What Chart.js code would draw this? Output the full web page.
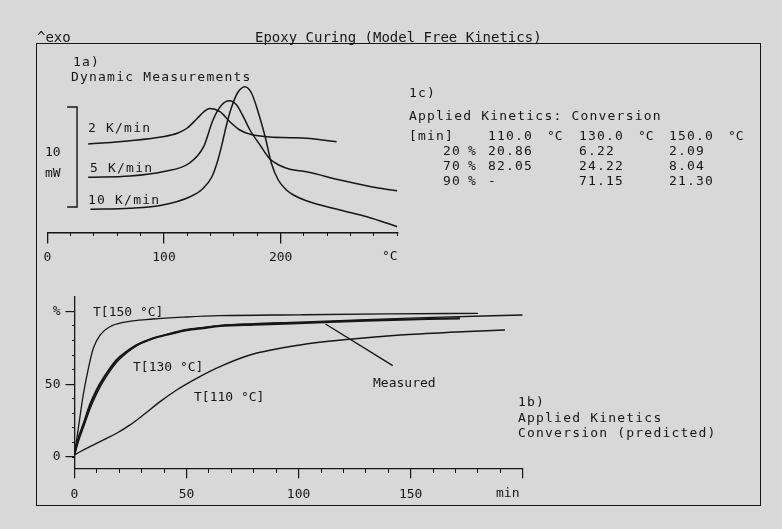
<!DOCTYPE html>
<html>
<head>
<meta charset="utf-8">
<script src="https://cdn.jsdelivr.net/npm/chart.js@4.4.1/dist/chart.umd.min.js"></script>
<style>
  html, body { margin: 0; padding: 0; background: #d8d8d8; }
  #page { position: relative; width: 782px; height: 529px; overflow: hidden; background: #d8d8d8;
          font-family: "DejaVu Sans Mono", monospace; color: #161616; }
  canvas { position: absolute; left: 0; top: 0; }
  #frame { position: absolute; left: 36px; top: 43px; width: 723px; height: 461px; border: 1.5px solid #161616; }
  .t { position: absolute; font-size: 13px; line-height: 16px; white-space: pre; letter-spacing: 1.2px; }
  .s { letter-spacing: 0; }
  .h { font-size: 14px; letter-spacing: 0; }
</style>
</head>
<body>
<div id="page">
  <div id="frame"></div>
  <canvas id="dsc" width="782" height="529"></canvas>
  <canvas id="conv" width="782" height="529"></canvas>
  <div id="labels"></div>
</div>
<script>
const ink = '#161616';
const DEG = '\u00B0C';

// 1a) dynamic measurements: temperature (°C) vs heat flow (mW, traces offset)
const temp2K = [35, 71, 99, 112, 120, 128, 134, 139, 148, 156.5, 165, 174, 188, 208, 222, 248];
const flow2K = [8.9, 9.23, 9.63, 10.0, 10.5, 11.4, 12.1, 12.45, 12.13, 11.13, 10.3, 9.87, 9.63, 9.53, 9.47, 9.13];
const temp5K = [35, 71, 99, 122, 134, 142, 149.4, 156, 162.3, 168, 173.7, 182.3, 190.8, 199.4, 208, 222, 251, 285, 300];
const flow5K = [5.57, 5.7, 6.13, 7.0, 8.63, 11.3, 12.8, 13.23, 12.8, 11.63, 10.3, 8.8, 7.4, 6.75, 6.37, 6.13, 5.3, 4.47, 4.23];
const temp10K = [37, 71, 99, 122, 133, 141, 146, 150, 154, 158, 163, 169.4, 175, 181, 187, 192, 198, 205, 211, 222, 251, 274, 300];
const flow10K = [2.37, 2.47, 2.8, 3.6, 4.4, 5.6, 7.2, 9.0, 11.0, 12.6, 14.0, 14.63, 14.0, 12.0, 9.5, 7.0, 5.3, 4.3, 3.8, 3.23, 2.3, 1.63, 0.63];

// 10 mW scale bar
const scaleBarT = [17, 25.5, 25.5, 17];
const scaleBarMW = [12.6, 12.6, 2.6, 2.6];

// 1b) conversion (%) vs time (min)
const timeT150 = [0, 1.7, 3.9, 6.2, 8.4, 11.4, 15.8, 21.8, 35, 50, 65, 100, 140, 180];
const convT150 = [2, 19.7, 42.6, 60.9, 74.6, 83.7, 89.4, 92.4, 94.7, 96.1, 97, 97.6, 98.2, 98.6];
const timeT130 = [0, 2, 3.9, 6.9, 9.9, 12.9, 18.8, 23.3, 27.8, 35.2, 42.6, 50, 57.5, 64.9, 80, 100, 130, 172];
const convT130 = [2, 14, 22, 35.7, 46, 54, 66.6, 72.3, 76.9, 81.5, 84.4, 87, 88.5, 89.9, 90.9, 91.8, 93.6, 95.2];
const timeMeas = [0, 2, 3.9, 6.9, 9.9, 12.9, 18.8, 23.3, 27.8, 35.2, 42.6, 50, 57.5, 64.9, 80, 100, 130, 160, 200];
const convMeas = [2, 12, 20, 33, 43.5, 52, 65, 71.5, 76.5, 81.5, 84.8, 87.5, 89, 90.3, 91.5, 92.5, 94.3, 95.8, 97.5];
const timeT110 = [0, 2.5, 6.9, 12.9, 18.8, 24.8, 30.7, 38.2, 45.6, 54.5, 64.9, 78.3, 100.6, 122.9, 145.3, 167.6, 192.1];
const convT110 = [1.5, 3.6, 7.1, 11.7, 16.3, 22, 28.8, 38, 46, 54, 62, 70, 76.9, 80.8, 83.7, 85.6, 87.2];

// "Measured" pointer
const pointerTime = [112, 142];
const pointerConv = [91.3, 62.7];

// 1c) table: minutes to reach a conversion level
const tableTemps = ['110.0', '130.0', '150.0'];
const tableLevels = ['20', '70', '90'];
const tableT110 = ['20.86', '82.05', '-'];
const tableT130 = ['6.22', '24.22', '71.15'];
const tableT150 = ['2.09', '8.04', '21.30'];

const tickFont = { family: 'DejaVu Sans Mono', size: 13 };

const pts = (xs, ys) => xs.map((x, i) => ({ x, y: ys[i] }));
const curve = (xs, ys, w) => ({
  data: pts(xs, ys), borderColor: ink, borderWidth: w || 1.5,
  pointRadius: 0, fill: false, cubicInterpolationMode: 'monotone'
});
const segs = (xs, ys) => ({
  data: pts(xs, ys), borderColor: ink, borderWidth: 1.4, pointRadius: 0, fill: false, tension: 0
});

// top chart: 0..300 °C maps onto x 47.3..397.3, 10 px per mW, 0 mW at y 233
new Chart(document.getElementById('dsc'), {
  type: 'line',
  data: { datasets: [
    curve(temp2K, flow2K), curve(temp5K, flow5K), curve(temp10K, flow10K),
    segs(scaleBarT, scaleBarMW)
  ] },
  options: {
    responsive: false, animation: false,
    layout: { padding: { left: 47.3, right: 782 - 397.3, top: 44, bottom: 529 - 270 } },
    plugins: { legend: { display: false }, tooltip: { enabled: false } },
    scales: {
      x: {
        type: 'linear', min: 0, max: 300, position: { y: 0 },
        ticks: { stepSize: 100, padding: 7, color: ink, font: tickFont, maxRotation: 0 },
        afterBuildTicks: s => { s.ticks = s.ticks.filter(t => t.value < 300); },
        grid: { drawOnChartArea: false, tickLength: 10, color: ink, lineWidth: 1.3 },
        border: { color: ink, width: 1.5 }
      },
      xMinor: {
        axis: 'x', type: 'linear', min: 0, max: 300, position: { y: 0 },
        ticks: { display: false, stepSize: 20 },
        grid: { drawOnChartArea: false, tickLength: 3, color: ink, lineWidth: 1 },
        border: { display: false }
      },
      y: { type: 'linear', display: false, min: -3.7, max: 18.9 }
    }
  }
});

// bottom chart: 0..200 min maps onto x 74.5..522.7, 0 % at y 457
const convMin = -(469 - 457) / 1.457;
const convMax = (457 - 297) / 1.457;
const yAxisWidth = 40;
new Chart(document.getElementById('conv'), {
  type: 'line',
  data: { datasets: [
    curve(timeT150, convT150, 1.3), curve(timeMeas, convMeas, 1.4),
    curve(timeT130, convT130, 2.2), curve(timeT110, convT110, 1.4),
    segs(pointerTime, pointerConv)
  ] },
  options: {
    responsive: false, animation: false,
    layout: { padding: { left: 74.5 - yAxisWidth, right: 782 - 522.7, top: 297, bottom: 529 - 469 } },
    plugins: { legend: { display: false }, tooltip: { enabled: false } },
    scales: {
      x: {
        type: 'linear', min: 0, max: 200, position: { y: convMin },
        ticks: { stepSize: 50, padding: 9, color: ink, font: tickFont, maxRotation: 0,
                 callback: v => (v === 200 ? '' : v) },
        grid: { drawOnChartArea: false, tickLength: 9, color: ink, lineWidth: 1.2 },
        border: { color: ink, width: 1.3 }
      },
      xMinor: {
        axis: 'x', type: 'linear', min: 0, max: 200, position: { y: convMin },
        ticks: { display: false, stepSize: 10 },
        grid: { drawOnChartArea: false, tickLength: 4, color: ink, lineWidth: 1 },
        border: { display: false }
      },
      y: {
        type: 'linear', min: convMin, max: convMax, position: 'left',
        afterFit: s => { s.width = yAxisWidth; },
        ticks: { stepSize: 50, includeBounds: false, padding: 5, color: ink, font: tickFont,
                 callback: v => (v === 100 ? '%' : v) },
        grid: { drawOnChartArea: false, tickLength: 9, color: ink, lineWidth: 1.2 },
        border: { color: ink, width: 1.3 }
      },
      yMinor: {
        axis: 'y', type: 'linear', min: convMin, max: convMax, position: { x: 0 },
        ticks: { display: false, stepSize: 10, includeBounds: false },
        grid: { drawOnChartArea: false, tickLength: 3, color: ink, lineWidth: 1 },
        border: { display: false }
      }
    }
  }
});

// text
const labels = [
  ['^exo', 37, 37, 'h'],
  ['Epoxy Curing (Model Free Kinetics)', 255, 37, 'h'],
  ['1a)', 73, 62],
  ['Dynamic Measurements', 71, 77],
  ['2 K/min', 88, 128],
  ['5 K/min', 90, 168],
  ['10 K/min', 88, 200],
  ['10', 45, 152, 's'],
  ['mW', 45, 173, 's'],
  [DEG, 382, 256, 's'],
  ['1c)', 409, 93],
  ['Applied Kinetics: Conversion', 409, 116],
  ['[min]', 409, 136],
  ['T[150 ' + DEG + ']', 93, 312, 's'],
  ['T[130 ' + DEG + ']', 133, 367, 's'],
  ['T[110 ' + DEG + ']', 194, 397, 's'],
  ['Measured', 373, 383, 's'],
  ['min', 496, 493, 's'],
  ['1b)', 518, 402],
  ['Applied Kinetics', 518, 418],
  ['Conversion (predicted)', 518, 433]
];
const colX = [488, 579, 669];
tableTemps.forEach((tp, i) => {
  labels.push([tp, colX[i], 136]);
  labels.push([DEG, colX[i] + 59, 136, 's']);
});
const cols = [tableT110, tableT130, tableT150];
tableLevels.forEach((lv, r) => {
  const y = 151 + r * 15;
  labels.push([lv, 443, y]);
  labels.push(['%', 468, y, 's']);
  cols.forEach((c, i) => labels.push([c[r], colX[i], y]));
});

const box = document.getElementById('labels');
labels.forEach(([txt, x, y, cls]) => {
  const d = document.createElement('div');
  d.className = 't' + (cls ? ' ' + cls : '');
  d.textContent = txt;
  d.style.left = x + 'px';
  d.style.top = (y - 8) + 'px';
  box.appendChild(d);
});
</script>
</body>
</html>
